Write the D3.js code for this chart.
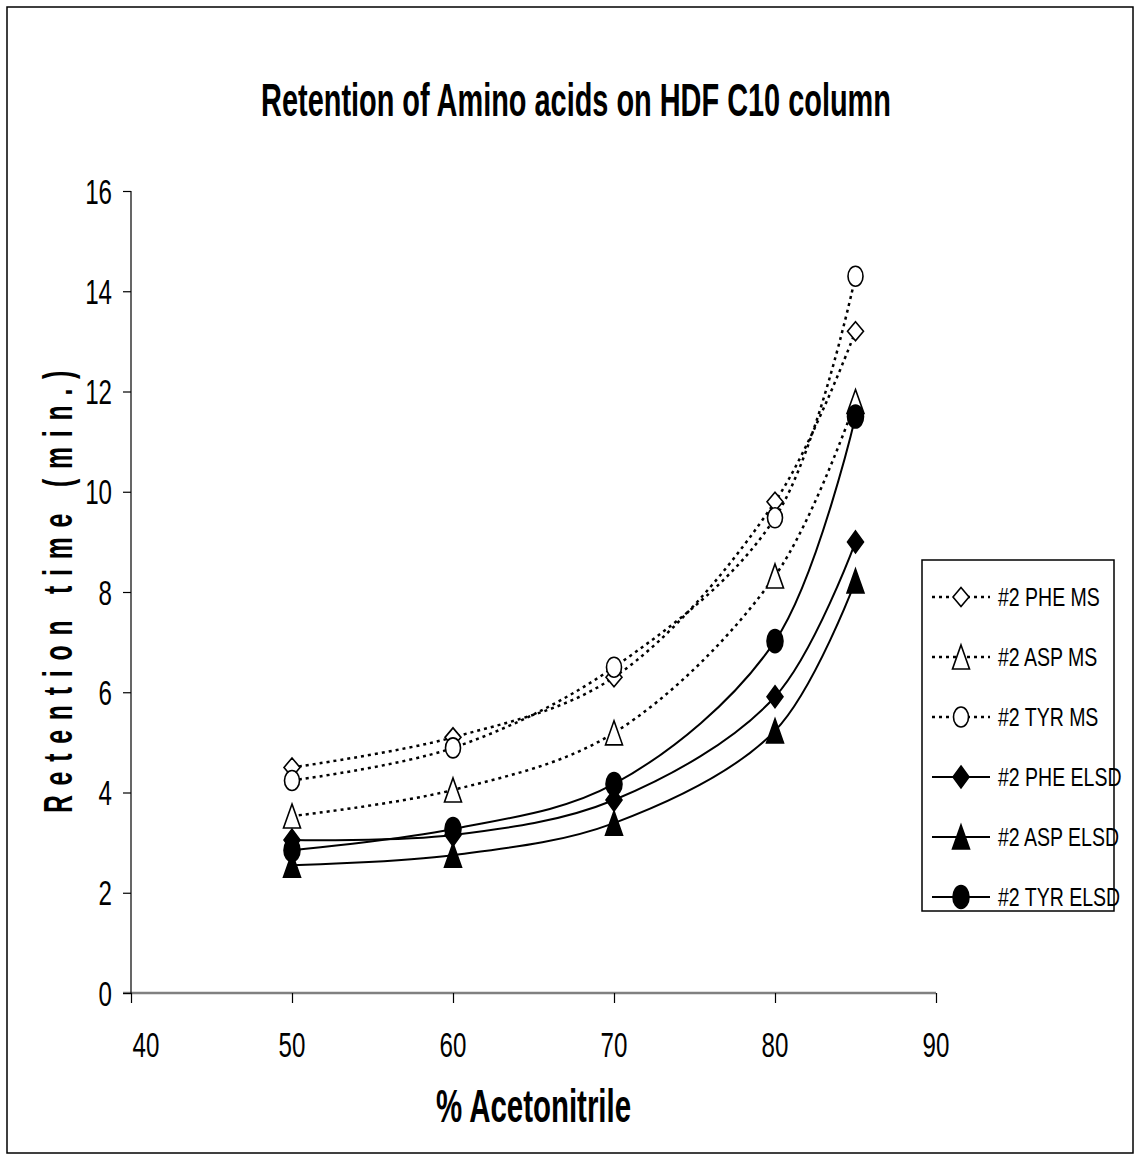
<!DOCTYPE html>
<html>
<head>
<meta charset="utf-8">
<script src="https://cdn.jsdelivr.net/npm/d3@7"></script>
<style>
  html, body { margin: 0; padding: 0; background: #fff; }
  svg { display: block; }
  text { font-family: "Liberation Sans", Arial, sans-serif; fill: #000; }
</style>
</head>
<body>
<svg id="chart" width="1141" height="1161"></svg>
<script>
// Retention time (min.) versus % acetonitrile
const acetonitrile = [50, 60, 70, 80, 85];
const pheMS   = [4.5, 5.1, 6.3, 9.8, 13.2];
const aspMS   = [3.53, 4.05, 5.19, 8.32, 11.8];
const tyrMS   = [4.24, 4.89, 6.5, 9.48, 14.3];
const pheELSD = [3.05, 3.15, 3.85, 5.91, 9.0];
const aspELSD = [2.55, 2.75, 3.39, 5.23, 8.22];
const tyrELSD = [2.85, 3.27, 4.17, 7.02, 11.5];

const seriesNames = ["#2 PHE MS", "#2 ASP MS", "#2 TYR MS", "#2 PHE ELSD", "#2 ASP ELSD", "#2 TYR ELSD"];
const xTicks = [40, 50, 60, 70, 80, 90];
const yTicks = [0, 2, 4, 6, 8, 10, 12, 14, 16];

const series = [
  { name: seriesNames[0], values: pheMS,   marker: "diamond",  filled: false, dotted: true },
  { name: seriesNames[1], values: aspMS,   marker: "triangle", filled: false, dotted: true },
  { name: seriesNames[2], values: tyrMS,   marker: "circle",   filled: false, dotted: true },
  { name: seriesNames[3], values: pheELSD, marker: "diamond",  filled: true,  dotted: false },
  { name: seriesNames[4], values: aspELSD, marker: "triangle", filled: true,  dotted: false },
  { name: seriesNames[5], values: tyrELSD, marker: "circle",   filled: true,  dotted: false }
];

const svg = d3.select("#chart");

// outer frame
svg.append("rect").attr("x", 7).attr("y", 7).attr("width", 1126).attr("height", 1146)
  .attr("fill", "none").attr("stroke", "#000").attr("stroke-width", 1.5);

// condensed text helper
function label(g, str, x, y, size, weight, anchor, sx, rotate) {
  return g.append("text")
    .attr("transform", `translate(${x},${y})` + (rotate ? ` rotate(${rotate})` : "") + ` scale(${sx},1)`)
    .attr("font-size", size).attr("font-weight", weight).attr("text-anchor", anchor)
    .text(str);
}

// title
label(svg, "Retention of Amino acids on HDF C10 column", 576, 116, 47, "bold", "middle", 0.615);

const x = d3.scaleLinear().domain([40, 90]).range([131, 936]);
const y = d3.scaleLinear().domain([0, 16]).range([993, 191]);

// axes
const xAxis = svg.append("g").attr("transform", `translate(0,${y(0)})`)
  .call(d3.axisBottom(x).tickValues(xTicks).tickSize(10).tickFormat(""));
xAxis.select(".domain").attr("stroke", "#808080").attr("stroke-width", 2.5).attr("d", `M${x(40) - 8},0H${x(90)}`);
xAxis.selectAll(".tick line").attr("stroke", "#000").attr("stroke-width", 1.2);

const yAxis = svg.append("g").attr("transform", `translate(${x(40)},0)`)
  .call(d3.axisLeft(y).tickValues(yTicks).tickSize(8).tickFormat(""));
yAxis.select(".domain").attr("stroke", "#000").attr("stroke-width", 1.2).attr("d", `M0,${y(16)}V${y(0)}`);
yAxis.selectAll(".tick line").attr("stroke", "#000").attr("stroke-width", 1.2);

// the first category label is nudged clear of the value axis
xTicks.forEach((v, i) => label(svg, String(v), x(v) + (i === 0 ? 15 : 0), 1057, 35, "normal", "middle", 0.69));
yTicks.forEach(v => label(svg, String(v), 112, y(v) + 12.5, 35, "normal", "end", 0.69));

// axis titles
label(svg, "% Acetonitrile", (x(40) + x(90)) / 2, 1122, 46, "bold", "middle", 0.64);
label(svg, "Retention time (min.)", 72, 587, 40, "bold", "middle", 0.62, -90)
  .attr("letter-spacing", 15.8);

// marker shapes
function markerPath(kind, filled) {
  if (kind === "diamond") {
    const w = 8, h = filled ? 11 : 9.5;
    return `M0,${-h}L${w},0L0,${h}L${-w},0Z`;
  }
  if (kind === "triangle") {
    return `M0,-12L8.5,12L-8.5,12Z`;
  }
  const rx = filled ? 8 : 7.5, ry = filled ? 11.5 : 10;
  return `M${-rx},0A${rx},${ry} 0 1,0 ${rx},0A${rx},${ry} 0 1,0 ${-rx},0Z`;
}

const line = d3.line()
  .x(d => x(d[0])).y(d => y(d[1]))
  .curve(d3.curveCatmullRom.alpha(0.5));

const plot = svg.append("g");
series.forEach(s => {
  const pts = acetonitrile.map((a, i) => [a, s.values[i]]);
  plot.append("path").attr("d", line(pts))
    .attr("fill", "none").attr("stroke", "#000")
    .attr("stroke-width", s.dotted ? 2.5 : 2)
    .attr("stroke-dasharray", s.dotted ? "3,4" : null);
});
series.forEach(s => {
  plot.selectAll(null).data(acetonitrile.map((a, i) => [a, s.values[i]])).enter()
    .append("path")
    .attr("transform", d => `translate(${x(d[0])},${y(d[1])})`)
    .attr("d", markerPath(s.marker, s.filled))
    .attr("fill", s.filled ? "#000" : "#fff")
    .attr("stroke", "#000").attr("stroke-width", 1.6);
});

// legend
const legend = svg.append("g");
legend.append("rect").attr("x", 922).attr("y", 560).attr("width", 192).attr("height", 351)
  .attr("fill", "#fff").attr("stroke", "#000").attr("stroke-width", 1.5);
series.forEach((s, i) => {
  const cy = 597 + i * 60;
  legend.append("line").attr("x1", 932).attr("x2", 990).attr("y1", cy).attr("y2", cy)
    .attr("stroke", "#000").attr("stroke-width", s.dotted ? 2.5 : 2)
    .attr("stroke-dasharray", s.dotted ? "3,4" : null);
  legend.append("path").attr("transform", `translate(961,${cy})`)
    .attr("d", markerPath(s.marker, s.filled))
    .attr("fill", s.filled ? "#000" : "#fff")
    .attr("stroke", "#000").attr("stroke-width", 1.6);
  label(legend, s.name, 998, cy + 9, 25, "normal", "start", 0.78);
});
</script>
</body>
</html>
